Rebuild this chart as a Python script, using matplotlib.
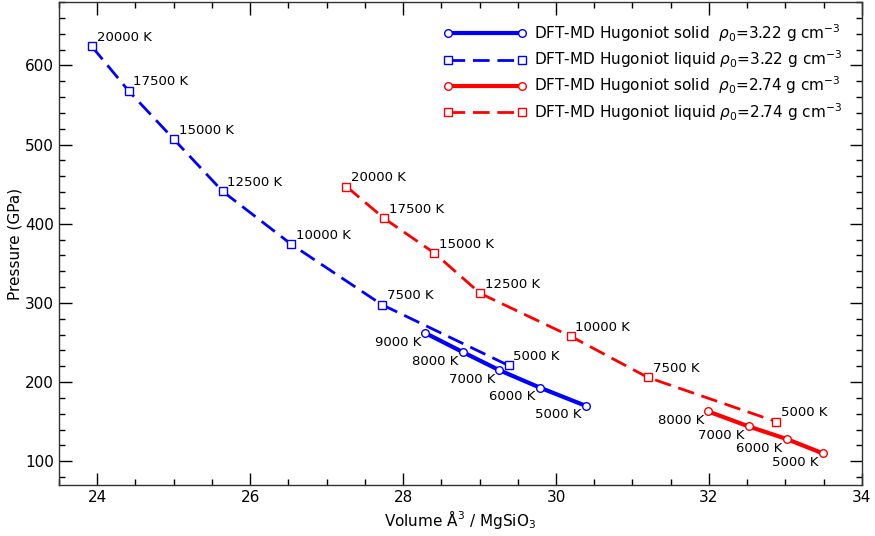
import matplotlib
matplotlib.use('Agg')
from matplotlib import pyplot as plt
from matplotlib.ticker import MultipleLocator

# Hugoniot, rho0 = 3.22 g/cc
liq_322_temp = [20000, 17500, 15000, 12500, 10000, 7500, 5000]
liq_322_vol = [23.93, 24.41, 25.00, 25.64, 26.54, 27.72, 29.38]
liq_322_p = [624, 568, 507, 441, 374, 298, 221]

sol_322_temp = [9000, 8000, 7000, 6000, 5000]
sol_322_vol = [28.29, 28.78, 29.26, 29.79, 30.39]
sol_322_p = [262, 238, 215, 193, 170]

# Hugoniot, rho0 = 2.74 g/cc
liq_274_temp = [20000, 17500, 15000, 12500, 10000, 7500, 5000]
liq_274_vol = [27.26, 27.75, 28.41, 29.01, 30.19, 31.20, 32.88]
liq_274_p = [447, 407, 363, 312, 258, 206, 150]

sol_274_temp = [8000, 7000, 6000, 5000]
sol_274_vol = [31.99, 32.52, 33.02, 33.49]
sol_274_p = [163, 144, 128, 110]

fig = plt.figure(figsize=(8.75, 5.36), dpi=100)
ax = fig.add_axes([0.0674, 0.0951, 0.9176, 0.9009])

solid_kw = dict(linestyle='-', linewidth=3, marker='o', markersize=5.5,
                markerfacecolor='white', markeredgewidth=1)
liquid_kw = dict(linestyle=(0, (6, 2.8)), linewidth=2, marker='s', markersize=5.5,
                 markerfacecolor='white', markeredgewidth=1)

ax.plot(sol_322_vol, sol_322_p, color='blue', markeredgecolor='blue',
        label=r'DFT-MD Hugoniot solid  $\rho_0$=3.22 g cm$^{-3}$', **solid_kw)
ax.plot(liq_322_vol, liq_322_p, color='blue', markeredgecolor='blue',
        label=r'DFT-MD Hugoniot liquid $\rho_0$=3.22 g cm$^{-3}$', **liquid_kw)
ax.plot(sol_274_vol, sol_274_p, color='red', markeredgecolor='red',
        label=r'DFT-MD Hugoniot solid  $\rho_0$=2.74 g cm$^{-3}$', **solid_kw)
ax.plot(liq_274_vol, liq_274_p, color='red', markeredgecolor='red',
        label=r'DFT-MD Hugoniot liquid $\rho_0$=2.74 g cm$^{-3}$', **liquid_kw)

# temperature labels: liquid above right, solid below left
for vols, ps, temps in [(liq_322_vol, liq_322_p, liq_322_temp),
                        (liq_274_vol, liq_274_p, liq_274_temp)]:
    for v, p, t in zip(vols, ps, temps):
        ax.annotate(f'{t} K', (v, p), xytext=(3.5, 6.5), textcoords='offset points',
                    ha='left', va='center', fontsize=9.5)
for vols, ps, temps in [(sol_322_vol, sol_322_p, sol_322_temp),
                        (sol_274_vol, sol_274_p, sol_274_temp)]:
    for v, p, t in zip(vols, ps, temps):
        ax.annotate(f'{t} K', (v, p), xytext=(-3, -6.5), textcoords='offset points',
                    ha='right', va='center', fontsize=9.5)

ax.set_xlim(23.5, 34)
ax.set_ylim(70, 680)
ax.xaxis.set_major_locator(MultipleLocator(2))
ax.xaxis.set_minor_locator(MultipleLocator(0.5))
ax.yaxis.set_major_locator(MultipleLocator(100))
ax.yaxis.set_minor_locator(MultipleLocator(20))
ax.tick_params(which='both', direction='in', top=True, right=True, labelsize=11)
ax.tick_params(which='major', length=9, width=1)
ax.tick_params(which='minor', length=4.5, width=1)
for s in ax.spines.values():
    s.set_linewidth(1)
    s.set_color('#333333')

ax.set_xlabel(r'Volume $\mathrm{\AA}^3$ / MgSiO$_3$', fontsize=11, labelpad=2)
ax.set_ylabel('Pressure (GPa)', fontsize=11, labelpad=2)

ax.legend(loc='upper right', frameon=False, fontsize=11, numpoints=2,
          handlelength=5.4, handletextpad=0.5, borderaxespad=0.9, labelspacing=0.3)

fig.savefig('out.png', dpi=100)
